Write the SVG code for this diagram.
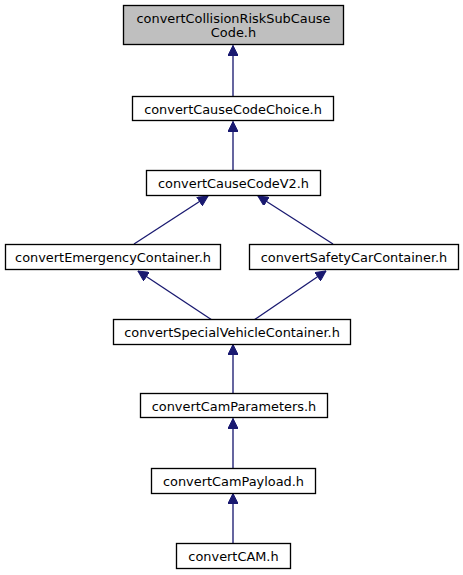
<svg xmlns="http://www.w3.org/2000/svg" width="463" height="575" viewBox="0 0 463 575">
<style>
.n rect{fill:#ffffff;stroke:#000000;stroke-width:1.33}
.n.cur rect{fill:#bfbfbf;stroke:#000000}
.n text{font-family:"DejaVu Sans",sans-serif;font-size:12.9px;text-anchor:middle;fill:#000000}
.e line{stroke:#191970;stroke-width:1.33;fill:none;marker-end:url(#ah)}
</style>
<defs>
<marker id="ah" viewBox="0 0 10 10" refX="10" refY="5" markerWidth="11" markerHeight="10" markerUnits="userSpaceOnUse" orient="auto">
<path d="M0,0 L10,5 L0,10 z" fill="#191970" stroke="#191970" stroke-width="1"/>
</marker>
</defs>
<rect width="463" height="575" fill="#ffffff"/>
<g id="edges" class="e">
<line x1="233" y1="96" x2="233" y2="45.5"/>
<line x1="233" y1="171" x2="233" y2="121.5"/>
<line x1="134" y1="244" x2="208" y2="196"/>
<line x1="333" y1="244" x2="258" y2="196"/>
<line x1="212" y1="320" x2="138" y2="271"/>
<line x1="254" y1="320" x2="326" y2="271"/>
<line x1="233" y1="393" x2="233" y2="344.5"/>
<line x1="233" y1="468" x2="233" y2="418.5"/>
<line x1="233" y1="543" x2="233" y2="493.5"/>
</g>
<g id="node1" class="n cur"><rect x="123.5" y="5.5" width="220" height="39"/><text x="233.5" y="23">convertCollisionRiskSubCause</text><text x="233.5" y="37">Code.h</text></g>
<g id="node2" class="n"><rect x="132.5" y="96.5" width="201" height="24"/><text x="233" y="113.5">convertCauseCodeChoice.h</text></g>
<g id="node3" class="n"><rect x="146.5" y="170.5" width="174" height="25"/><text x="233.5" y="188">convertCauseCodeV2.h</text></g>
<g id="node4" class="n"><rect x="5.5" y="244.5" width="215" height="25"/><text x="113" y="262">convertEmergencyContainer.h</text></g>
<g id="node5" class="n"><rect x="249.5" y="244.5" width="209" height="25"/><text x="354" y="262">convertSafetyCarContainer.h</text></g>
<g id="node6" class="n"><rect x="113.5" y="319.5" width="237" height="25"/><text x="232" y="337">convertSpecialVehicleContainer.h</text></g>
<g id="node7" class="n"><rect x="140.5" y="393.5" width="187" height="24"/><text x="234" y="410.5">convertCamParameters.h</text></g>
<g id="node8" class="n"><rect x="151.5" y="468.5" width="164" height="25"/><text x="233.5" y="486">convertCamPayload.h</text></g>
<g id="node9" class="n"><rect x="176.5" y="543.5" width="114" height="25"/><text x="233.5" y="561">convertCAM.h</text></g>
</svg>
